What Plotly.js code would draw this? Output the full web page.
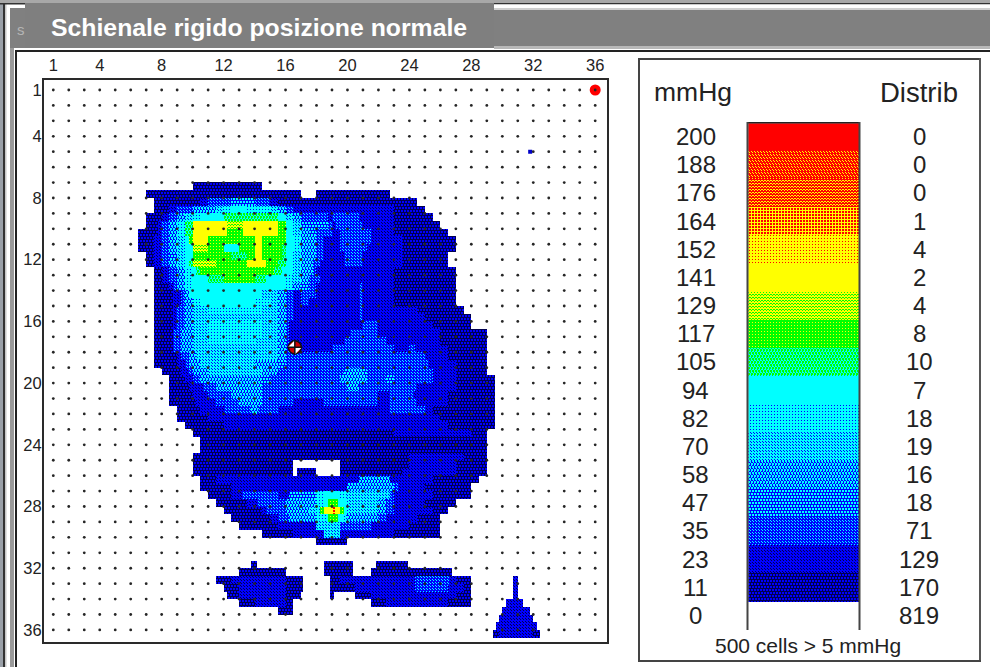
<!DOCTYPE html>
<html><head><meta charset="utf-8">
<script src="https://cdn.plot.ly/plotly-3.0.1.min.js"></script>
<style>html,body{margin:0;padding:0;background:#fff}#plot{width:990px;height:667px}.hm image{filter:blur(.5px)}</style>
</head><body><div id="plot"></div>
<script>
// ---- data ----
const titleText = "Schienale rigido posizione normale";
const axisTicks = [1,4,8,12,16,20,24,28,32,36];
const mmHgLabels = [200,188,176,164,152,141,129,117,105,94,82,70,58,47,35,23,11,0];
const distribValues = [0,0,0,1,4,2,4,8,10,7,18,19,16,18,71,129,170,819];
const bandLevels = [17,16,15,14,13,12,11,10,9,8,7,6,5,4,3,2,1,0];
const cellsNote = "500 cells > 5 mmHg";
const peakPoint = {col:[36], row:[1]};
const smallPoint = {col:[31.8], row:[5]};
const centrePoint = {col:[16.6], row:[17.68]};
// pressure band per half-sensor row, as "column:band" runs (first row = 13, first column = 12; band in base 36, . = none)
const pressureFirstRow = 13, pressureFirstCol = 12;
const pressureRows = [
"7:1 16:.",
"1:1 21:. 23:1 32.5:.",
"2:1 8:2 9:3 12:4 15:3 17:2 18:1 36:.",
"2:1 4:2 5:3 7:5 10:6 11:7 12:8 14:7 17:6 18:5 19:3 20:2 33:1 37:.",
"1:1 3:2 4:3 5:5 6:6 7:7 8:8 11:9 18:8 19:6 20:5 21:3 24.5:2 25:3 28.5:2 33:1 38:.",
"1:1 2.5:2 3:3 4:5 5:7 6:9 7:c 11.5:b 13.5:c 18:a 19:8 20:6 21:4 24.5:3 25:2 25.5:3 29:2 33:1 39:.",
"0:1 2.5:2 3:3 4:5 5:7 6:9 7:c 11.5:a 13.5:c 18:a 19:8 20:6 21:5 22:4 23:3 25:2 26:3 30:2 33:1 40:.",
"0:1 2:2 3:3 4:5 5:6 6:8 6.5:a 7:c 9:a 15:c 16:a 19:8 20:7 21:5 23:3 24:2 26:3 30:2 34:1 41:.",
"0:1 2:2 3:3 4:5 5:6 6:8 7:b 9:a 11:8 13:a 15:c 16:a 18.5:9 19:8 20:7 21:5 23:3 24:2 26:3 29.5:2 34:1 41:.",
"1:1 2:2 3:3 4:4 5:6 6:8 7:a 12:9 14:a 15:c 16:a 18.5:9 19:8 20:6 21:5 23:3 24:2 26.5:3 29:2 34:1 40:.",
"1:1 2:2 3:3 4:5 5:6 6:8 6.5:9 7:b 10:a 14:c 16.5:a 18:9 19:8 20:6 21:5 22.5:3 23.5:2 26.5:3 29:2 34:1 40:.",
"2:1 3:2 4:3 5:5 6:7 7:8 7.5:9 8:a 17.5:9 18.5:8 20:6 21:5 22.5:3 23:2 33:1 41:.",
"2:1 3:2 4:3 5:5 6:7 7:8 9:9 11:a 15:9 16.5:8 19:7 20:6 21:5 22:3 23.5:2 33:1 41:.",
"2:1 4:2 4.5:3 5:5 6:7 7:8 19:7 20:5 21:4 22:3 23:2 28.5:3 29:2 33:1 41:.",
"2:1 4.5:2 5.5:3 6:5 6.5:8 16:6 18:5 19:3 20:2 21:3 23:2 28.5:3 29:2 33:1 41:.",
"2:1 4.5:2 5.5:3 6:5 7:7 8:8 15:7 17:6 18:5 19:3 20:2 21:3 22:2 28.5:3 29:2 33:1 41:.",
"2:1 4.5:2 5:3 6:5 7:6 9:7 14:7 16:6 18:5 19:3 20:2 28.5:3 29:2 36:1 42:.",
"2:1 4.5:2 5:3 6:5 7:6 16:6 18:5 19:3 20:2 28.5:3 29:2 37:1 43:.",
"2:1 4.5:2 5:3 6:5 7:6 9:7 16:6 18:5 19:3 19.5:2 29:3 31:2 38:1 43:.",
"2:1 4.5:3 5.5:5 7:6 9:7 16:6 18:5 19:3 19.5:2 27.5:3 31:2 39:1 45:.",
"2:1 4.5:3 5.5:5 7:6 9:7 15:6 18:5 19:3 19.5:2 26.5:3 32:2 39:1 45:.",
"2:1 4.5:3 5.5:5 7:6 15:6 18:5 19:3 20:2 25:3 33:2 35:3 35.7:2 40:1 45:.",
"2:1 5:2 5.5:3 6.5:5 7.5:6 15:6 18:5 19:3 37:2 40:1 45:.",
"2:1 5:2 6:3 6.5:5 8:6 15:5 18:4 19:3 37.5:2 41:1 45:.",
"3:1 5.5:2 6.5:3 7:5 9:6 14:6 16:5 18:3 26.5:4 27:5 29:4 29.5:3 38:2 41:1 45:.",
"4:1 6:2 7:3 8:5 16:4 17:3 26:5 29.5:3 32:4 33:3 38:2 41:1 46:.",
"4:1 6.5:2 8.5:3 10:5 16:3 27:5 28.5:3 36:2 41:1 46:.",
"4:1 7:2 9:3 12:5 16:3 31:2 32.5:3 35.5:2 40:1 46:.",
"4:1 7.5:2 10:3 13:5 16:3 20:2 24:3 31:2 32.5:3 36:2 40:1 46:.",
"5:1 8:2 11:3 14.5:5 15.5:3 18:2 32.5:3 37:2 38:1 46:.",
"5:1 9:2 39:1 46:.",
"6:1 11:2 40:1 46:.",
"7:1 33:2 43:1 45:.",
"8:1 45:.",
"8:1 45:.",
"7:1 35:2 42:1 45:.",
"7:1 20:. 26:1 35:2 41:1 45:.",
"7:1 20:. 20.5:1 23:. 26:1 34:2 41:1 45:.",
"8:1 10:2 28.5:5 32.5:2 38:1 44:.",
"8:1 12:2 27:5 33:3 33.5:2 37:1 43:.",
"9:1 12:2 13.5:3 18:2 19.5:4 23:7 24:8 26:7 27:6 32.5:3 33:2 38:1 43:.",
"10:1 14:2 15.5:3 19:5 23:7 24:8 24.5:a 25.8:8 27:6 31:5 32:3 33:2 37:1 41:.",
"11:1 16:2 16.5:3 19:5 22:6 23:7 23.5:a 24:c 25:e 25.5:c 26:a 26.5:8 27:6 31:5 32:3 33:2 38:1 40:.",
"12:1 17:2 18:3 19.5:5 23:7 24.5:a 25.8:8 26.5:6 27:5 31:3 32:2 36:1 39:.",
"13:1 18:2 23:6 26:3 30:2 35:1 39:.",
"16:1 20:2 24:6 26:2 33:1 39:.",
"23:1 27:.",
"",
"",
"14.5:1 15.3:. 24:1 27.7:. 30.7:1 34.8:.",
"13:1 19:. 24:1 27.7:. 30:1 40.5:.",
"10:1 12:2 19:1 21.2:. 24.8:1 26:2 35.7:3 40.2:2 41:1 43:. 48.4:2 49:.",
"11:1 13:2 19:1 21.2:. 24.8:1 28:2 35.7:3 40:2 42:1 43:. 48.4:2 49:.",
"11.5:1 13:2 19:1 21:. 24.8:1 25.2:. 28:1 30:2 41:1 43:. 48.4:2 49:.",
"13:1 15:2 19:1 20:. 30:1 32:2 40:1 43:. 47.4:2 49.7:.",
"18:1 20:. 47:2 50.5:.",
"46.6:2 51:.",
"46.2:2 51.4:.",
"45.8:1 46.5:2 51:1 51.8:."
];
// screen dither of each band: [first colour, second colour, ninths of second, staggered]
const bandPairs = [null,[0,1,4,1],[1,0,2,0],[1,2,2,0],[1,2,4,1],[1,2,5,1],[1,2,7,0],[1,2,8,0],[2,2,9,0],[2,3,5,1],[3,4,1,0],[3,4,6,0],[4,4,9,0],[4,5,1,0],[4,5,4,0],[4,5,6,0],[5,4,2,1],[5,5,9,0]];
const inkColours = ["#000050","#0000ff","#00ffff","#00ff00","#ffff00","#ff0000"];
const tile = [[4,6,8],[7,0,2],[5,3,1]];

// ---- build ----
const W=990,H=667;
const xRange=[0.4,36.73], yRange=[36.75,0.351];
const plotPx={l:44,r:606.5,t:80,b:641.5};
const DOT=1, NUDGE=.25; // one dither pixel, kept off rounding ties
const shade=(lv,i,j)=>{const p=bandPairs[lv]; if(!p) return null;
  const ii=(i+(p[3]&&Math.floor(j/3)%2?1:0))%3; return tile[j%3][ii]<p[2]?p[1]:p[0];};
const runs=pressureRows.map(txt=>txt?txt.split(" ").map(t=>{const [c,l]=t.split(":");return [+c, l==="."?0:parseInt(l,36)];}):[]);
function bandAt(col,row){
  const r=runs[Math.floor((row-.5)*2)-pressureFirstRow]; if(!r) return 0;
  const p=(col-.5)*2-pressureFirstCol; let lv=0;
  for(const [c,l] of r){ if(p>=c) lv=l; else break; }
  return lv;
}
const nx=Math.round((plotPx.r-plotPx.l)/DOT), ny=Math.round((plotPx.b-plotPx.t)/DOT);
const dx=(xRange[1]-xRange[0])/nx, dy=(yRange[0]-yRange[1])/ny;
const gridX=[...Array(nx).keys()].map(i=>xRange[0]+(i+.5+NUDGE)*dx);
const gridY=[...Array(ny).keys()].map(j=>yRange[1]+(j+.5+NUDGE)*dy);
const cells=gridY.map((y,j)=>gridX.map((x,i)=>{const lv=bandAt(x,y);return lv?shade(lv,i,j):null;}));
const sensors=[...Array(36).keys()].map(i=>i+1);
const dotX=[],dotY=[]; sensors.forEach(r=>sensors.forEach(c=>{dotX.push(c);dotY.push(r);}));
const scale=inkColours.map((c,i)=>[i/5,c]);
const barPx={l:748,r:859.5,t:123,b:630};
const BC=Math.round((barPx.r-barPx.l)/DOT), BR=Math.round((barPx.b-barPx.t)/DOT);
const bandX=[...Array(BC).keys()].map(i=>(i+.5+NUDGE)/BC);
const bandY=[...Array(BR).keys()].map(j=>(j+.5+NUDGE)*18/BR);
const bandZ=bandY.map((y,j)=>bandX.map((x,i)=>shade(bandLevels[Math.min(17,Math.floor(y))],i,j)));

const px=(x)=>x/W, py=(y)=>1-y/H;
const rect=(x0,y0,x1,y1,c)=>({type:"rect",xref:"paper",yref:"paper",x0:px(x0),x1:px(x1),y0:py(y0),y1:py(y1),fillcolor:c,line:{width:0},layer:"below"});
const rectTop=(x0,y0,x1,y1,c)=>Object.assign(rect(x0,y0,x1,y1,c),{layer:"above"});
const frame=[
 rect(0,0,3,667,"#9aa0a8"),rect(3,0,5,667,"#333"),rect(5,0,6.5,667,"#c8c8c8"),
 rect(10,8,14,667,"#9a9a9a"),rect(15,50,17,667,"#222"),
 rect(0,0,990,3,"#a8a8a8"),rect(0,3,990,4.5,"#333"),
 rect(10,8,25,48,"#808080"),
 rect(494,4.5,990,8,"#ffffff"),rect(494,8,990,10,"#cfcfcf"),rect(494,10,990,46,"#808080"),rect(494,46,990,49,"#b8b8b8"),
 rect(25,3,494,48,"#7f7f7f"),
 rect(15,50,990,52,"#222"),
 rect(638,58,981,60,"#444"),rect(638,58,640,662,"#444"),rect(979,58,981,662,"#555"),rect(638,660,981,662,"#444"),
 rectTop(747,122,860,123.5,"#222"),rectTop(746.5,122,748.5,630,"#444"),rectTop(858.5,122,860.5,630,"#444")
];
const sans="Liberation Sans, Arial, sans-serif";
const ann=(x,y,t,size,color)=>({xref:"paper",yref:"paper",x:px(x),y:py(y),text:t,showarrow:false,xanchor:"center",yanchor:"middle",font:{family:sans,size:size,color:color||"#222"}});
const annotations=[
 ann(259,27,"<b>"+titleText+"</b>",24.8,"#fff"),
 ann(21,30,"s",15,"#b5b5b5"),
 ann(693,92,"mmHg",26.5),ann(918.5,92,"Distrib",27.5),ann(807.5,645,cellsNote,21)
];
mmHgLabels.forEach((v,i)=>annotations.push({xref:"paper",yref:"y2",x:px(695.5),y:i+.48,text:String(v),showarrow:false,xanchor:"center",yanchor:"middle",font:{family:sans,size:24,color:"#222"}}));
distribValues.forEach((v,i)=>annotations.push({xref:"paper",yref:"y2",x:px(919),y:i+.48,text:String(v),showarrow:false,xanchor:"center",yanchor:"middle",font:{family:sans,size:24,color:"#222"}}));

const traces=[
 {type:"heatmap",x:gridX,y:gridY,z:cells,zmin:0,zmax:5,colorscale:scale,showscale:false,hoverinfo:"skip",xaxis:"x",yaxis:"y"},
 {type:"scatter",mode:"markers",x:peakPoint.col,y:peakPoint.row,marker:{color:"#ff0000",size:11},hoverinfo:"skip"},
 {type:"scatter",mode:"markers",x:smallPoint.col,y:smallPoint.row,marker:{color:"#0000c8",size:4,symbol:"square"},hoverinfo:"skip"},
 {type:"scatter",mode:"markers",x:dotX,y:dotY,marker:{color:"#262626",size:2.8},hoverinfo:"skip"},
 {type:"scatter",mode:"markers",x:centrePoint.col,y:centrePoint.row,marker:{color:"#d00000",size:13,line:{color:"#111",width:1.5}},hoverinfo:"skip"},
 {type:"scatter",mode:"markers",x:centrePoint.col,y:centrePoint.row,marker:{color:"#fff",size:10,symbol:"bowtie",angle:45},hoverinfo:"skip"},
 {type:"scatter",mode:"markers",x:centrePoint.col,y:centrePoint.row,marker:{color:"#111",size:11,symbol:"cross-thin",line:{color:"#111",width:1.5}},hoverinfo:"skip"},
 {type:"heatmap",x:bandX,y:bandY,z:bandZ,zmin:0,zmax:5,colorscale:scale,showscale:false,hoverinfo:"skip",xaxis:"x2",yaxis:"y2"}
];
const axFont={family:sans,size:16.5,color:"#222"};
const layout={
 width:W,height:H,margin:{l:0,r:0,t:0,b:0,pad:0},paper_bgcolor:"#fff",plot_bgcolor:"#fff",showlegend:false,
 xaxis:{domain:[px(plotPx.l),px(plotPx.r)],range:xRange,side:"top",tickvals:axisTicks,ticktext:axisTicks.map(String),tickfont:axFont,ticks:"",showgrid:false,zeroline:false,showline:true,mirror:true,linecolor:"#2a2a2a",linewidth:2,fixedrange:true},
 yaxis:{domain:[py(plotPx.b),py(plotPx.t)],range:yRange,tickvals:axisTicks,ticktext:axisTicks.map(String),tickfont:axFont,ticks:"",ticklabelstandoff:-3,showgrid:false,zeroline:false,showline:true,mirror:true,linecolor:"#2a2a2a",linewidth:2,fixedrange:true},
 xaxis2:{domain:[px(barPx.l),px(barPx.r)],range:[0,1],visible:false,fixedrange:true,anchor:"y2"},
 yaxis2:{domain:[py(barPx.b),py(barPx.t)],range:[18,0],visible:false,fixedrange:true,anchor:"x2"},
 shapes:frame,annotations:annotations
};
Plotly.newPlot("plot",traces,layout,{displayModeBar:false,staticPlot:true});
</script></body></html>
